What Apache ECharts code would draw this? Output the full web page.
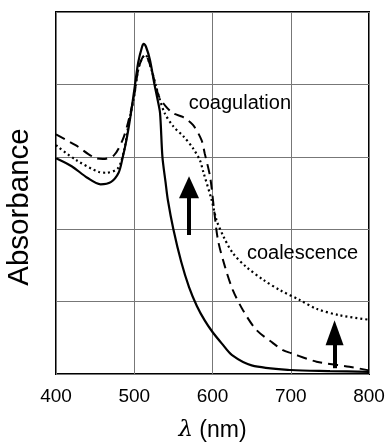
<!DOCTYPE html>
<html>
<head>
<meta charset="utf-8">
<script src="https://cdn.jsdelivr.net/npm/echarts@6/dist/echarts.min.js"></script>
<style>
html,body{margin:0;padding:0;background:#fff;}
#c{width:385px;height:442px;}
</style>
</head>
<body>
<div id="c"></div>
<script>
// Wavelength (nm) / absorbance (arb. units, 0-5 grid divisions)
var solidX = [400,420,440,457,470,480,485,490,495,500,505,510,512,515,520,526,530,533,536,540,543,550,560,570,580,590,600,612,625,650,700,750,800];
var solidY = [2.98,2.87,2.71,2.62,2.65,2.78,2.98,3.23,3.55,3.92,4.30,4.52,4.56,4.52,4.34,3.99,3.78,3.60,3.00,2.65,2.40,2.00,1.55,1.20,0.94,0.74,0.58,0.42,0.26,0.12,0.055,0.04,0.03];

var coagX = [400,425,451,460,474,485,492,500,505,510,514,521,531,540,550,562,575,586,590,597,602,607,616,626,639,656,677,690,700,733,775,800];
var coagY = [3.31,3.16,2.98,2.97,3.02,3.23,3.47,3.85,4.20,4.36,4.41,4.24,3.85,3.70,3.60,3.55,3.44,3.23,3.05,2.72,2.27,1.85,1.48,1.16,0.88,0.61,0.43,0.33,0.29,0.17,0.10,0.05];

var coalX = [400,425,455,464,479,487,492,500,505,510,514,521,531,539,550,563,575,584,588,599,605,614,626,643,665,686,712,733,763,800];
var coalY = [3.16,2.96,2.79,2.78,2.84,3.09,3.40,3.85,4.20,4.36,4.41,4.24,3.85,3.60,3.42,3.28,3.12,2.95,2.80,2.40,2.13,1.90,1.67,1.48,1.30,1.16,1.02,0.90,0.81,0.75];

var xTicks = [400,500,600,700,800];

// Annotation arrows: [x, yStart, yEnd]
var arrowCoag = [570, 1.92, 2.58];
var arrowCoal = [756, 0.08, 0.57];

// Text labels: [name, x, y]
var labelCoag = ['coagulation', 635, 3.74];
var labelCoal = ['coalescence', 715, 1.67];

function pairs(xs, ys){ return xs.map(function(x,i){ return [x, ys[i]]; }); }

var chart = echarts.init(document.getElementById('c'), null, {renderer:'canvas'});
var FONT = 'Liberation Sans, Arial, Helvetica, sans-serif';

var arrowLine = function(a, size){
  return {
    silent: true,
    symbol: ['none','triangle'],
    symbolSize: size,
    label: {show:false},
    lineStyle: {color:'#000', width:4, type:'solid'},
    emphasis: {disabled:true},
    data: [[{coord:[a[0], a[1]]},{coord:[a[0], a[2]]}]]
  };
};

var textPoint = function(l){
  return {
    silent: true,
    symbol: 'circle',
    symbolSize: 0,
    label: {show:true, position:'inside', formatter:'{b}', color:'#000', fontSize:20, fontFamily:FONT},
    data: [{name:l[0], coord:[l[1], l[2]]}]
  };
};

chart.setOption({
  animation: false,
  backgroundColor: '#fff',
  grid: {left:56, right:16, top:12, bottom:68, show:true, borderColor:'#000', borderWidth:2,
         backgroundColor:'transparent', outerBoundsMode:'none', containLabel:false},
  xAxis: {
    type:'value', min:400, max:800, interval:100,
    axisLine:{show:false}, axisTick:{show:false},
    axisLabel:{color:'#000', fontSize:19, fontFamily:FONT, margin:13, showMinLabel:true, showMaxLabel:true},
    splitLine:{show:true, lineStyle:{color:'#777', width:1}},
    name:'{i|λ} (nm)', nameLocation:'middle', nameGap:45,
    nameTextStyle:{color:'#000', fontSize:23, fontFamily:FONT,
      rich:{i:{fontStyle:'italic', fontSize:23, fontFamily:'DejaVu Serif, serif', color:'#000'}}}
  },
  yAxis: {
    type:'value', min:0, max:5, interval:1,
    axisLine:{show:false}, axisTick:{show:false}, axisLabel:{show:false},
    splitLine:{show:true, lineStyle:{color:'#777', width:1}},
    name:'Absorbance', nameLocation:'middle', nameRotate:90, nameGap:21,
    nameTextStyle:{color:'#000', fontSize:29.5, fontFamily:FONT, padding:[0,0,0,-28]}
  },
  series: [
    {type:'line', data:pairs(solidX, solidY), smooth:0.3, showSymbol:false, silent:true,
     lineStyle:{color:'#000', width:2.2, type:'solid'},
     markLine: arrowLine(arrowCoag, [20,22])},
    {type:'line', data:pairs(coagX, coagY), smooth:0.3, showSymbol:false, silent:true,
     lineStyle:{color:'#000', width:2, type:[10,6]},
     markPoint: textPoint(labelCoag)},
    {type:'line', data:pairs(coalX, coalY), smooth:0.3, showSymbol:false, silent:true,
     lineStyle:{color:'#000', width:2.2, type:[2,3]},
     markPoint: textPoint(labelCoal),
     markLine: arrowLine(arrowCoal, [18,25])}
  ]
});
</script>
</body>
</html>
